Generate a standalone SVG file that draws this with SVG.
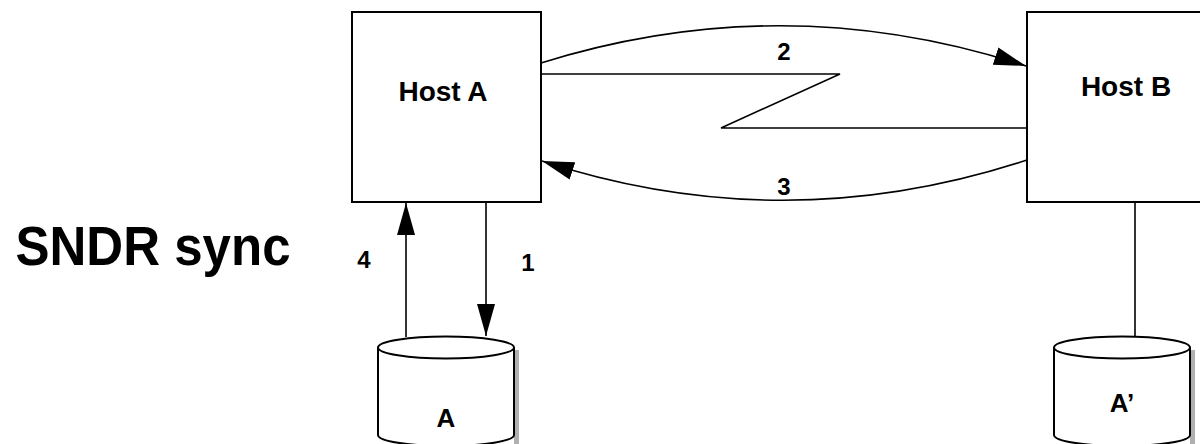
<svg xmlns="http://www.w3.org/2000/svg" width="1200" height="444" viewBox="0 0 1200 444">
  <style>
    .box { fill: #ffffff; stroke: #000; stroke-width: 2; }
    .line { fill: none; stroke: #000; stroke-width: 1.6; }
    .lbl { font-family: "Liberation Sans", Arial, sans-serif; font-weight: bold; fill: #000; text-anchor: middle; }
    .host { font-size: 28px; }
    .num { font-size: 24px; }
    .cyl { fill: #ffffff; stroke: #000; stroke-width: 2; }
  </style>
  <defs>
    <marker id="arrow" markerUnits="userSpaceOnUse" markerWidth="34" markerHeight="20" refX="32" refY="10" orient="auto">
      <path d="M0,1 L32,10 L0,19 Z" fill="#000"/>
    </marker>
  </defs>
  <rect width="1200" height="444" fill="#ffffff"/>

  <text x="153" y="265" class="lbl" font-size="56" textLength="275" lengthAdjust="spacingAndGlyphs">SNDR sync</text>

  <g id="hostA">
    <rect class="box" x="352" y="12" width="189" height="190"/>
    <text x="443" y="101" class="lbl host">Host A</text>
  </g>

  <g id="hostB">
    <rect class="box" x="1027" y="12" width="190" height="190"/>
    <text x="1126" y="96" class="lbl host">Host B</text>
  </g>

  <g id="diskA">
    <rect x="514" y="350" width="5" height="94" fill="#b0b0b0"/>
    <path class="cyl" d="M378,347.5 L378,435 A68,11 0 0 0 514,435 L514,347.5"/>
    <ellipse class="cyl" cx="446" cy="347.5" rx="68" ry="11"/>
    <text x="446" y="427" class="lbl" font-size="26">A</text>
  </g>

  <g id="diskA2">
    <rect x="1190" y="350" width="5" height="94" fill="#b0b0b0"/>
    <path class="cyl" d="M1054,347.5 L1054,435 A68,11 0 0 0 1190,435 L1190,347.5"/>
    <ellipse class="cyl" cx="1122" cy="347.5" rx="68" ry="11"/>
    <text x="1122" y="412" class="lbl" font-size="26">A’</text>
  </g>

  <g id="connectors">
    <path class="line" d="M541,63 Q784,-13 1026,66" marker-end="url(#arrow)"/>
    <path class="line" d="M1027,160 Q784,240 542,161" marker-end="url(#arrow)"/>
    <polyline class="line" points="541,74 840,74 721,128 1028,128"/>
    <line class="line" x1="406" y1="337" x2="406" y2="203" marker-end="url(#arrow)"/>
    <line class="line" x1="486" y1="202" x2="486" y2="336" marker-end="url(#arrow)"/>
    <line class="line" x1="1135" y1="202" x2="1135" y2="336"/>
  </g>

  <g id="labels">
    <text x="784" y="60" class="lbl num">2</text>
    <text x="784" y="195" class="lbl num">3</text>
    <text x="364" y="268" class="lbl num">4</text>
    <text x="528" y="271" class="lbl num">1</text>
  </g>
</svg>
